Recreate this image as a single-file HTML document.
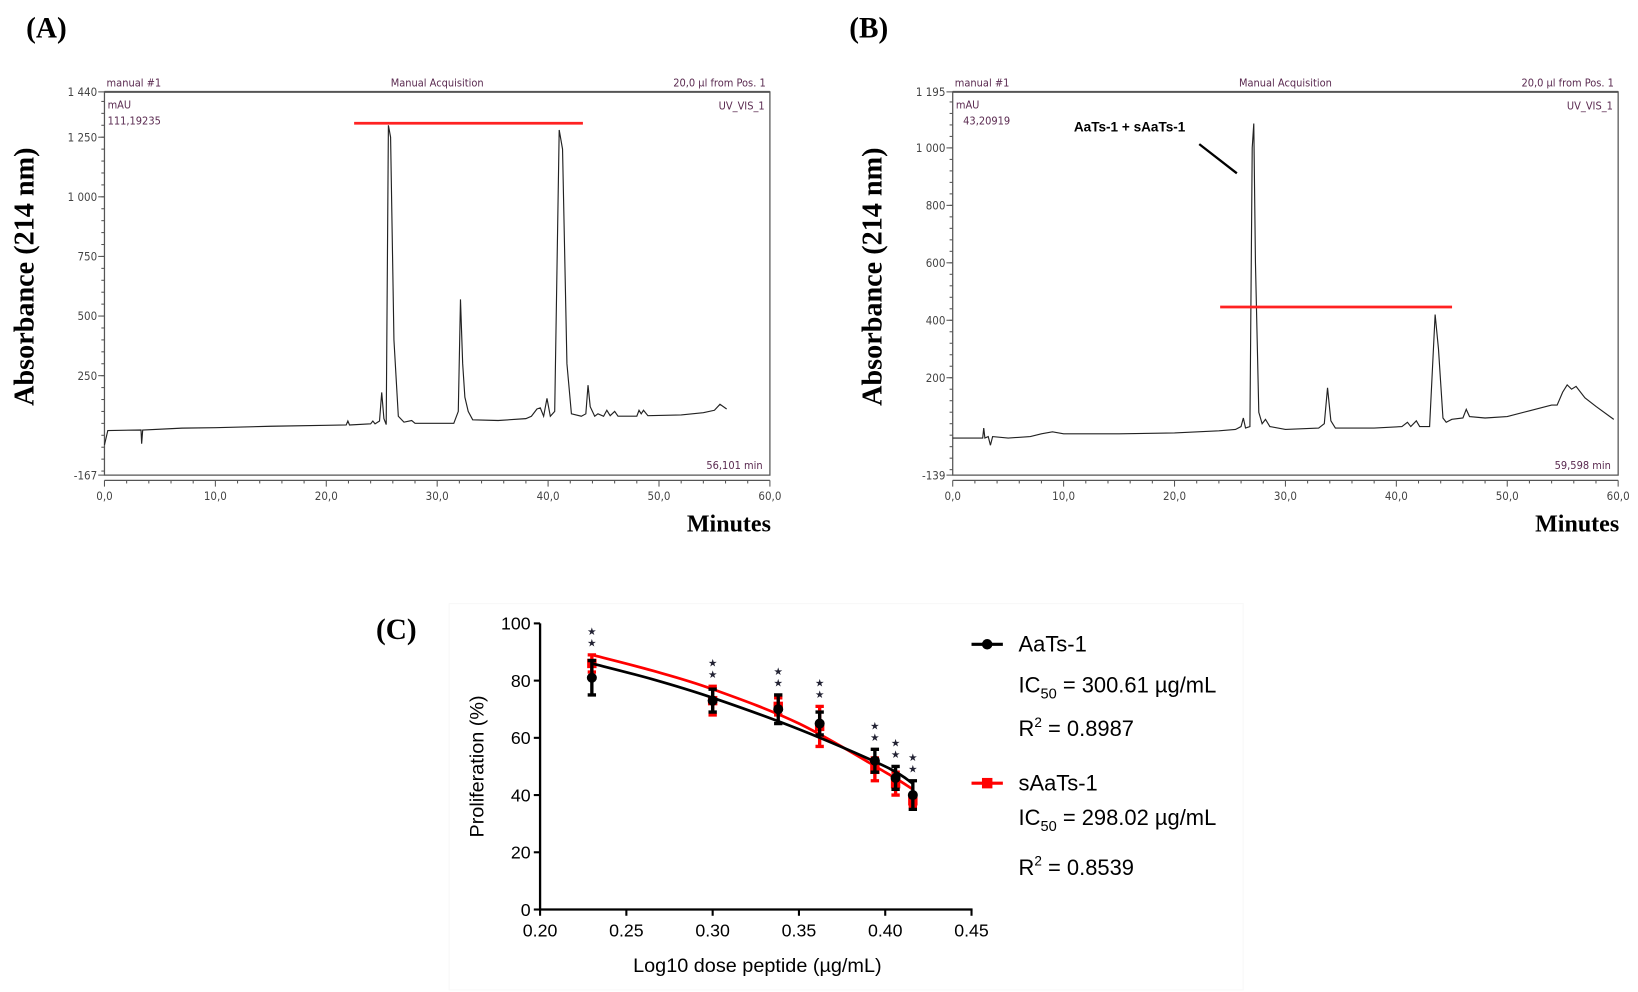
<!DOCTYPE html>
<html><head><meta charset="utf-8">
<style>
html,body{margin:0;padding:0;background:#fff;}
svg{display:block;}
.hdr{font-family:"DejaVu Sans Condensed","DejaVu Sans",sans-serif;font-size:10.5px;fill:#5a2a50;}
.tk{font-family:"DejaVu Sans Condensed","DejaVu Sans",sans-serif;font-size:11px;fill:#444;}
.big{font-family:"Liberation Serif",serif;font-weight:bold;}
.ar{font-family:"Liberation Sans",sans-serif;}
</style></head>
<body>
<svg id="fig" width="1638" height="992" viewBox="0 0 1568 950" preserveAspectRatio="none" xmlns="http://www.w3.org/2000/svg">
<g id="gA"></g>
<g id="gB"></g>
<g id="gC"></g>
</svg>
<script>
// ---- Chromatogram A data ----
const timesA=[0,0.3,3.3,3.35,3.45,7,10,15,20,21.8,21.95,22.1,24,24.2,24.4,24.8,25,25.2,25.4,25.6,25.8,26.1,26.5,27,27.7,28,31.5,31.9,32.1,32.3,32.5,32.8,33.2,35.5,38,38.5,39,39.3,39.6,39.9,40.2,40.6,41,41.3,41.7,42.1,43,43.4,43.6,43.8,44.2,44.5,45,45.3,45.6,46,46.3,48,48.2,48.4,48.6,49,52,54,55,55.5,56.1];
const valuesA=[-40,20,22,-35,22,30,32,38,42,43,60,43,48,60,48,60,180,70,45,1300,1250,400,80,55,62,50,50,100,570,300,160,100,65,62,70,80,110,115,80,155,80,100,1280,1200,300,90,80,90,210,120,80,90,80,105,82,100,80,80,105,90,105,82,85,95,105,130,110];
const yTicksA=[1440,1250,1000,750,500,250,-167];
const yTickLabelsA=["1 440","1 250","1 000","750","500","250","-167"];
// ---- Chromatogram B data ----
const timesB=[0,2.7,2.8,2.9,3.2,3.4,3.6,5,7,8,9,10,15,20,24,25.5,26,26.2,26.4,26.8,27,27.15,27.3,27.6,27.9,28.2,28.6,30,33,33.5,33.8,34.1,34.5,38,40.5,41,41.3,41.8,42.1,43,43.5,43.8,44.2,44.5,45,46,46.3,46.6,48,50,52,54,54.5,55,55.4,55.8,56.2,57,58,59.6];
const valuesB=[-10,-10,25,-10,-5,-35,-5,-10,-5,5,12,5,5,8,15,20,30,60,25,30,1000,1085,600,80,40,55,30,20,25,40,165,50,25,25,30,45,30,50,30,30,420,300,60,45,55,60,90,65,60,65,85,105,105,150,175,160,170,130,100,55];
const yTicksB=[1195,1000,800,600,400,200,-139];
const yTickLabelsB=["1 195","1 000","800","600","400","200","-139"];
const xTicks=[0,10,20,30,40,50,60];
const xTickLabels=["0,0","10,0","20,0","30,0","40,0","50,0","60,0"];

// ---- Panel C data ----
const doses=[0.23,0.30,0.338,0.362,0.394,0.406,0.416];
const aatsMean=[81,73,70,65,52,46,40];
const aatsErr=[6,4,5,4,4,4,5];
const saatsMean=[86,73,71,64,49,44,38];
const saatsErr=[3,5,3,7,4,4,2];
const fitX=[0.23,0.265,0.30,0.35,0.40,0.416];
const fitAats=[86,80.5,74,63,50,44];
const fitSaats=[89,83.5,77,65,48,42];
const cYTicks=[0,20,40,60,80,100];
const cXTicks=[0.20,0.25,0.30,0.35,0.40,0.45];

const NS="http://www.w3.org/2000/svg";
function mk(parent,tag,attrs,text){const e=document.createElementNS(NS,tag);for(const k in attrs)e.setAttribute(k,attrs[k]);if(text!==undefined)e.textContent=text;parent.appendChild(e);return e;}

function chrom(g,o){
  const L=o.L,R=o.L+637,T=88,B=455;
  const sx=t=>L+(t-0)/60*(R-L);
  const sy=v=>B-(v-o.ymin)/(o.ymax-o.ymin)*(B-T);
  let t=mk(g,'text',{x:o.labx,y:36,'font-size':28,class:'big'},o.label);
  
  
  let fr=mk(g,'rect',{x:L,y:T,width:R-L,height:B-T,fill:'none',stroke:'#555','stroke-width':1.2});
  
  
  mk(g,'line',{x1:L,y1:T,x2:R,y2:T,stroke:'#555','stroke-width':2});
  mk(g,'line',{x1:L,y1:B+5,x2:R,y2:B+5,stroke:'#555','stroke-width':1.2});
  for(let m=0;m<=60;m+=2){mk(g,'line',{x1:sx(m),y1:B+5,x2:sx(m),y2:B+(m%10===0?11:8),stroke:'#555','stroke-width':1});}
  xTicks.forEach((v,i)=>{let e=mk(g,'text',{x:sx(v),y:B+24,'text-anchor':'middle',class:'tk'},xTickLabels[i]);
    
    });
  for(let m=Math.ceil(o.ymin/o.minor)*o.minor;m<=o.ymax;m+=o.minor){mk(g,'line',{x1:L-3,y1:sy(m),x2:L,y2:sy(m),stroke:'#555','stroke-width':1});}
  o.yt.forEach((v,i)=>{mk(g,'line',{x1:L-6,y1:sy(v),x2:L,y2:sy(v),stroke:'#555','stroke-width':1});
    let e=mk(g,'text',{x:L-7,y:sy(v)+4,'text-anchor':'end',class:'tk'},o.ytl[i]);
    
    });
  mk(g,'text',{x:L+2,y:83,class:'hdr'},'manual #1');
  mk(g,'text',{x:(L+R)/2,y:83,class:'hdr','text-anchor':'middle'},'Manual Acquisition');
  mk(g,'text',{x:R-4,y:83,class:'hdr','text-anchor':'end'},'20,0 µl from Pos. 1');
  mk(g,'text',{x:L+3,y:104,class:'hdr'},'mAU');
  mk(g,'text',{x:L+o.offx,y:119,class:'hdr'},o.val);
  mk(g,'text',{x:R-5,y:105,class:'hdr','text-anchor':'end'},'UV_VIS_1');
  mk(g,'text',{x:R-7,y:449,class:'hdr','text-anchor':'end'},o.end);
  let yl=mk(g,'text',{transform:`translate(${o.L-68},${265}) rotate(-90)`,'text-anchor':'middle','font-size':27,class:'big'},'Absorbance (214 nm)');
  
  
  let xl=mk(g,'text',{x:R+1,y:509,'text-anchor':'end','font-size':23,class:'big'},'Minutes');
  
  
  const pts=o.t.map((tt,i)=>sx(tt).toFixed(1)+','+sy(o.v[i]).toFixed(1)).join(' ');
  let pl=mk(g,'polyline',{points:pts,fill:'none',stroke:'#222','stroke-width':1.1});
  
  
  let rl=mk(g,'line',{x1:o.red[0],y1:o.red[2],x2:o.red[1],y2:o.red[2],stroke:'#f22','stroke-width':2.6});
  
  
}
chrom(document.getElementById('gA'),{L:100,labx:25,label:'(A)',ymin:-167,ymax:1440,yt:yTicksA,ytl:yTickLabelsA,minor:50,t:timesA,v:valuesA,val:'111,19235',offx:3,end:'56,101 min',red:[339,558,118]});
chrom(document.getElementById('gB'),{L:912,labx:813,label:'(B)',ymin:-139,ymax:1195,yt:yTicksB,ytl:yTickLabelsB,minor:40,t:timesB,v:valuesB,val:'43,20919',offx:10,end:'59,598 min',red:[1168,1390,294]});
const gB=document.getElementById('gB');
let an=mk(gB,'text',{x:1028,y:126,'font-size':13,'font-weight':'bold',class:'ar'},'AaTs-1 + sAaTs-1');


mk(gB,'line',{x1:1148,y1:138,x2:1184,y2:166,stroke:'#000','stroke-width':2.2});

// ---- Panel C ----
const gC=document.getElementById('gC');
const cx=v=>517+(v-0.20)/0.25*(930-517);
const cy=v=>871-v/100*(871-597);
mk(gC,'rect',{x:430,y:578,width:760,height:370,fill:'none',stroke:'#f8f8f8','stroke-width':1});
let lc=mk(gC,'text',{x:360,y:612,'font-size':28,class:'big'},'(C)');


mk(gC,'line',{x1:517,y1:597,x2:517,y2:872,stroke:'#000','stroke-width':2.2});
mk(gC,'line',{x1:516,y1:871,x2:931,y2:871,stroke:'#000','stroke-width':2.2});
cYTicks.forEach(v=>{mk(gC,'line',{x1:511,y1:cy(v),x2:517,y2:cy(v),stroke:'#000','stroke-width':2});
  let e=mk(gC,'text',{x:508,y:cy(v)+6,'text-anchor':'end','font-size':17,class:'ar'},String(v));
  
  });
cXTicks.forEach(v=>{mk(gC,'line',{x1:cx(v),y1:871,x2:cx(v),y2:877,stroke:'#000','stroke-width':2});
  let e=mk(gC,'text',{x:cx(v),y:897,'text-anchor':'middle','font-size':17,class:'ar'},v.toFixed(2));
  
  });
let cyl=mk(gC,'text',{transform:'translate(463,734) rotate(-90)','text-anchor':'middle','font-size':19,class:'ar'},'Proliferation (%)');


let cxl=mk(gC,'text',{x:725,y:931,'text-anchor':'middle','font-size':19,class:'ar'},'Log10 dose peptide (µg/mL)');



function smooth(xs,ys){
  const P=xs.map((x,i)=>[cx(x),cy(ys[i])]);
  let d='M'+P[0][0]+','+P[0][1];
  for(let i=0;i<P.length-1;i++){
    const p0=P[Math.max(0,i-1)],p1=P[i],p2=P[i+1],p3=P[Math.min(P.length-1,i+2)];
    const c1=[p1[0]+(p2[0]-p0[0])/6,p1[1]+(p2[1]-p0[1])/6];
    const c2=[p2[0]-(p3[0]-p1[0])/6,p2[1]-(p3[1]-p1[1])/6];
    d+=` C${c1[0]},${c1[1]} ${c2[0]},${c2[1]} ${p2[0]},${p2[1]}`;
  }
  return d;
}
function series(color,mean,err,shape,fit,name){
  const g=mk(gC,'g',{});
  
  
  const fl=mk(g,'path',{d:smooth(fitX,fit),fill:'none',stroke:color,'stroke-width':2.6});
  
  
  doses.forEach((d,i)=>{
    const x=cx(d),y1=cy(mean[i]+err[i]),y2=cy(mean[i]-err[i]);
    const eb=mk(g,'path',{d:`M${x},${y1}V${y2}M${x-4},${y1}H${x+4}M${x-4},${y2}H${x+4}`,stroke:color,'stroke-width':3.2,fill:'none'});
    
    
    let m;
    if(shape==='c') m=mk(g,'circle',{cx:x,cy:cy(mean[i]),r:4.8,fill:color});
    else m=mk(g,'rect',{x:x-4.5,y:cy(mean[i])-4.5,width:9,height:9,fill:color});
    
    
  });
}
series('#f00',saatsMean,saatsErr,'s',fitSaats,'saats-1');
series('#000',aatsMean,aatsErr,'c',fitAats,'aats-1');
doses.forEach((d,i)=>{
  const top=Math.max(aatsMean[i]+aatsErr[i],saatsMean[i]+saatsErr[i]);
  const y=cy(top)-8;
  const s=mk(gC,'text',{x:cx(d),y:y,'text-anchor':'middle','font-size':10,'fill':'#223','class':'ar'},'★');
  
  
  const s2=mk(gC,'text',{x:cx(d),y:y-11,'text-anchor':'middle','font-size':10,'fill':'#223','class':'ar'},'★');
  
  
});
function legend(y0,color,shape,name,ic,icy,r2,r2y){
  const g=mk(gC,'g',{});
  
  
  mk(g,'line',{x1:930,y1:y0,x2:960,y2:y0,stroke:color,'stroke-width':3});
  if(shape==='c') mk(g,'circle',{cx:945,cy:y0,r:5,fill:color}); else mk(g,'rect',{x:940,y:y0-5,width:10,height:10,fill:color});
  mk(g,'text',{x:975,y:y0+7,'font-size':21,class:'ar'},name);
  const t=mk(g,'text',{x:975,y:icy,'font-size':21,class:'ar'});
  t.innerHTML='IC<tspan font-size="14" dy="6">50</tspan><tspan dy="-6"> = '+ic+' µg/mL</tspan>';
  const r=mk(g,'text',{x:975,y:r2y,'font-size':21,class:'ar'});
  r.innerHTML='R<tspan font-size="13" dy="-9">2</tspan><tspan dy="9"> = '+r2+'</tspan>';
}
legend(617,'#000','c','AaTs-1','300.61',663,'0.8987',705);
legend(750,'#f00','s','sAaTs-1','298.02',790,'0.8539',838);
</script>
</body></html>
